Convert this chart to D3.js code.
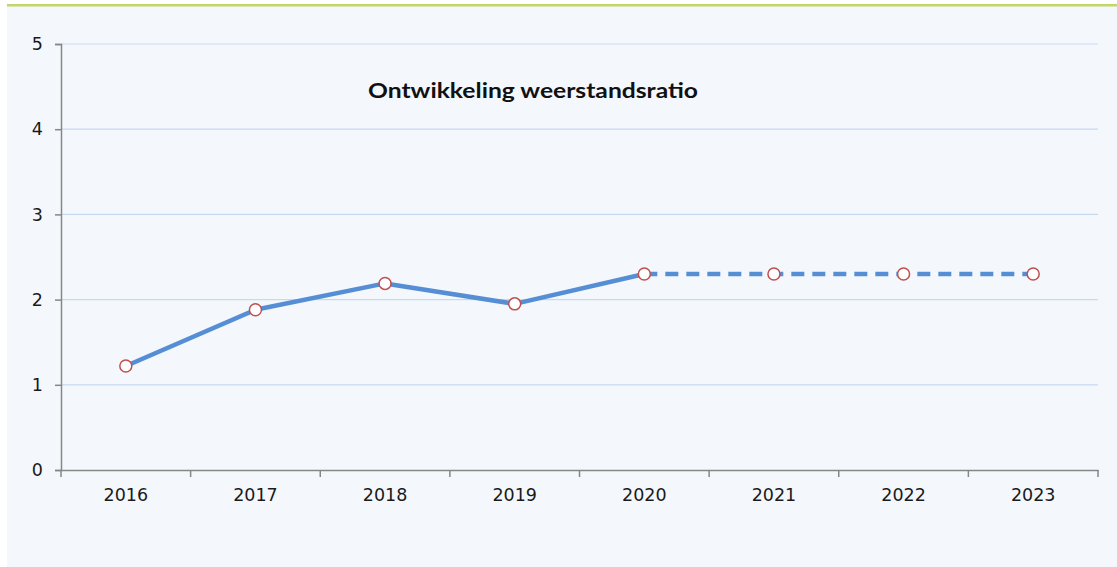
<!DOCTYPE html>
<html>
<head>
<meta charset="utf-8">
<script src="https://cdn.jsdelivr.net/npm/d3@7"></script>
<style>
  body { margin: 0; background: #ffffff; }
  svg { display: block; }
</style>
</head>
<body>
<div id="graphicContainer"></div>
<script>
var years = ["2016", "2017", "2018", "2019", "2020", "2021", "2022", "2023"]
var ratio = [1.22, 1.88, 2.19, 1.95, 2.30, 2.30, 2.30, 2.30]
var actualUntil = "2020"
var yTicks = [0, 1, 2, 3, 4, 5]
var title = "Ontwikkeling weerstandsratio"

var width = 1117, height = 567
var margin = { top: 44, right: 19, bottom: 97, left: 61 }
var w = width - margin.left - margin.right
var h = height - margin.top - margin.bottom

var svg = d3.select("#graphicContainer").append("svg")
  .attr("width", width)
  .attr("height", height)

// panel background + green top rule
svg.append("rect").attr("x", 7).attr("y", 5).attr("width", width - 7).attr("height", height - 5)
  .attr("fill", "#f4f8fd")
svg.append("rect").attr("x", 7).attr("y", 4).attr("width", width - 7).attr("height", 2.5)
  .attr("fill", "#c3d66b")

var g = svg.append("g").attr("transform", "translate(" + margin.left + "," + margin.top + ")")

var x = d3.scaleBand().domain(years).range([0, w])
var y = d3.scaleLinear().domain([0, 5]).range([h, 0])

// gridlines
g.selectAll(".grid")
  .data(yTicks.filter(d => d > 0))
  .enter().append("line")
  .attr("x1", 0).attr("x2", w)
  .attr("y1", d => y(d)).attr("y2", d => y(d))
  .attr("stroke", "#c6d9f0").attr("stroke-width", 1.2)

var yAxis = g.append("g")
  .call(d3.axisLeft(y).tickValues(yTicks).tickFormat(d3.format("d")).tickSize(6).tickPadding(12))
var xAxis = g.append("g")
  .attr("transform", "translate(0," + h + ")")
  .call(d3.axisBottom(x).tickSize(0).tickPadding(19))

// x tick marks sit on band edges
xAxis.selectAll(".edge")
  .data(years.concat(["end"]))
  .enter().append("line")
  .attr("class", "edge")
  .attr("x1", (d, i) => i < years.length ? x(d) : w)
  .attr("x2", (d, i) => i < years.length ? x(d) : w)
  .attr("y1", 0).attr("y2", 7)
  .attr("stroke", "#868686").attr("stroke-width", 1.5)

g.selectAll(".domain").attr("stroke", "#868686").attr("stroke-width", 1.5)
yAxis.selectAll(".tick line").attr("stroke", "#868686").attr("stroke-width", 1.5)
g.selectAll(".tick text")
  .style("font-family", "'DejaVu Sans', Verdana, sans-serif")
  .style("font-size", "17.5px")
  .attr("fill", "#1a1a1a")

var cx = d => x(d) + x.bandwidth() / 2
var split = years.indexOf(actualUntil)
var pts = years.map((d, i) => ({ year: d, v: ratio[i] }))

var line = d3.line().x(d => cx(d.year)).y(d => y(d.v))

g.append("path")
  .datum(pts.slice(0, split + 1))
  .attr("d", line)
  .attr("fill", "none")
  .attr("stroke", "#558ed5")
  .attr("stroke-width", 4.5)
  .attr("stroke-linejoin", "round")

g.append("path")
  .datum(pts.slice(split))
  .attr("d", line)
  .attr("fill", "none")
  .attr("stroke", "#558ed5")
  .attr("stroke-width", 4.5)
  .attr("stroke-dasharray", "13,8")

g.selectAll(".dot")
  .data(pts)
  .enter().append("circle")
  .attr("class", "dot")
  .attr("cx", d => cx(d.year))
  .attr("cy", d => y(d.v))
  .attr("r", 6)
  .attr("fill", "#ffffff")
  .attr("stroke", "#c0504d")
  .attr("stroke-width", 1.5)

svg.append("text")
  .attr("x", 368).attr("y", 98)
  .attr("font-family", "Lato, 'Open Sans', sans-serif")
  .attr("font-weight", "bold")
  .attr("font-size", 21)
  .attr("textLength", 330)
  .attr("lengthAdjust", "spacingAndGlyphs")
  .attr("fill", "#111")
  .text(title)
</script>
</body>
</html>
